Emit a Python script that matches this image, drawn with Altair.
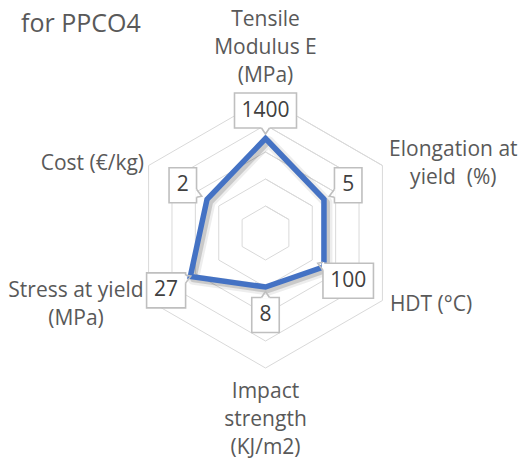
import math
import altair as alt
import pandas as pd

# ---- chart content --------------------------------------------------------
axis_labels = [
    ["Tensile", "Modulus E", "(MPa)"],
    ["Elongation at", "yield\u00a0 (%)"],
    ["HDT (°C)"],
    ["Impact", "strength", "(KJ/m2)"],
    ["Stress at yield", "(MPa)"],
    ["Cost (€/kg)"],
]
values = [1400, 5, 100, 8, 27, 2]
axis_max = [2000, 10, 200, 20, 42, 4]
ring_levels = [0.2, 0.4, 0.6, 0.8, 1.0]
subtitle = "for PPCO4"

# ---- geometry ---------------------------------------------------------------
W, H = 522, 463
CX, CY = 265.5, 233.0      # pixel position of the radar centre
R = 135.0                  # pixel radius of the outer ring
PX = 1.0 / R               # one pixel expressed in radar units
FONT = "Open Sans"
TEXT_GREY = "#595959"
LABEL_SIZE = 21
LINE_H = 28

n = len(values)
angles = [math.pi / 2 - i * 2 * math.pi / n for i in range(n)]

x_scale = alt.Scale(domain=[-CX / R, (W - CX) / R], nice=False, zero=False)
y_scale = alt.Scale(domain=[-(H - CY) / R, CY / R], nice=False, zero=False)


def X(field):
    return alt.X(field, type="quantitative", scale=x_scale, axis=None)


def Y(field):
    return alt.Y(field, type="quantitative", scale=y_scale, axis=None)


# rough advance widths (in em) used to centre multi-line labels beside the rings
_ADV = {"i": .26, "l": .26, "j": .26, "t": .35, "f": .33, "r": .41, " ": .26,
        "\u00a0": .26, "(": .3, ")": .3, "/": .37, "s": .48, "y": .5, "k": .5,
        "g": .55, "M": .89, "m": .93, "°": .43, "€": .57, "%": .82, "E": .54,
        "C": .63, "D": .7, "H": .7, "T": .55, "S": .55}


def text_width(s, size):
    return sum(_ADV.get(ch, .57) for ch in s) * size


# ---- hexagonal grid ----------------------------------------------------------
grid_rows = []
for k, lvl in enumerate(ring_levels):
    for j in range(n + 2):
        a = angles[j % n]
        grid_rows.append(dict(ring=k, order=j, x=lvl * math.cos(a), y=lvl * math.sin(a)))
grid_df = pd.DataFrame(grid_rows)

grid = alt.Chart(grid_df).mark_line(color="#d9d9d9", strokeWidth=1).encode(
    x=X("x"), y=Y("y"), detail="ring:N", order="order:Q"
)

# ---- series polygon --------------------------------------------------------------
frac = [v / m for v, m in zip(values, axis_max)]
pts = [(f * math.cos(a), f * math.sin(a)) for f, a in zip(frac, angles)]

series_rows = []
for j in range(n + 2):
    px, py = pts[j % n]
    series_rows.append(dict(order=j, x=px, y=py, sx=px + 3 * PX, sy=py - 3 * PX))
series_df = pd.DataFrame(series_rows)

shadow_wide = alt.Chart(series_df).mark_line(
    color="#000000", strokeWidth=11, opacity=0.07, strokeJoin="round"
).encode(x=X("sx"), y=Y("sy"), order="order:Q")
shadow_core = alt.Chart(series_df).mark_line(
    color="#000000", strokeWidth=6, opacity=0.15, strokeJoin="round"
).encode(x=X("sx"), y=Y("sy"), order="order:Q")
series = alt.Chart(series_df).mark_line(
    color="#4472C4", strokeWidth=5.5, strokeJoin="miter"
).encode(x=X("x"), y=Y("y"), order="order:Q")

# ---- value callouts --------------------------------------------------------------
box_rows, wedge_rows, cover_rows = [], [], []
for i, (v, a, (px, py)) in enumerate(zip(values, angles, pts)):
    ux, uy = math.cos(a), math.sin(a)
    bx, by = px + 28 * PX * ux, py + 28 * PX * uy
    txt = str(v)
    hw = (11.5 * len(txt) + 16) / 2 * PX
    hh = 17.5 * PX
    box_rows.append(dict(label=txt, bx=bx, by=by,
                         x1=bx - hw, x2=bx + hw, y1=by - hh, y2=by + hh))
    dx, dy = -ux, -uy
    tx = hw / abs(dx) if abs(dx) > 1e-9 else float("inf")
    ty = hh / abs(dy) if abs(dy) > 1e-9 else float("inf")
    t = min(tx, ty)
    ex, ey = bx + t * dx, by + t * dy
    tipx, tipy = ex + 6 * PX * dx, ey + 6 * PX * dy
    if tx < ty:
        b1, b2 = (ex, ey + 4 * PX), (ex, ey - 4 * PX)
    else:
        b1, b2 = (ex - 4 * PX, ey), (ex + 4 * PX, ey)
    for o, (wx, wy) in enumerate([b1, (tipx, tipy), b2]):
        wedge_rows.append(dict(label=txt, order=o, x=wx, y=wy))
    cover_rows.append(dict(x=b1[0], y=b1[1], x2=b2[0], y2=b2[1]))

box_df = pd.DataFrame(box_rows)
wedge_df = pd.DataFrame(wedge_rows)
cover_df = pd.DataFrame(cover_rows)

boxes = alt.Chart(box_df).mark_rect(
    fill="white", stroke="#bfbfbf", strokeWidth=1.6
).encode(x=X("x1"), x2="x2", y=Y("y1"), y2="y2")
covers = alt.Chart(cover_df).mark_rule(color="white", strokeWidth=2.5).encode(
    x=X("x"), y=Y("y"), x2="x2", y2="y2"
)
wedges = alt.Chart(wedge_df).mark_line(color="#bfbfbf", strokeWidth=1.6).encode(
    x=X("x"), y=Y("y"), detail="label:N", order="order:Q"
)
box_text = alt.Chart(box_df).mark_text(
    font=FONT, fontSize=21, color="#404040", baseline="middle", align="center"
).encode(x=X("bx"), y=Y("by"), text="label:N")

# ---- category labels (y is the first line's baseline) -------------------------------
cat_rows = []
for lines, a in zip(axis_labels, angles):
    ox, oy = math.cos(a), math.sin(a)
    nl = len(lines)
    w = max(text_width(s, LABEL_SIZE) for s in lines) * PX
    if abs(ox) < 1e-6:
        lx = ox
        if oy > 0:
            ly = oy + (16 + (nl - 1) * LINE_H) * PX
        else:
            ly = oy - 30 * PX
    else:
        lx = ox + 8 * PX + w / 2 if ox > 0 else ox - 5 * PX - w / 2
        shift = 4 if oy > 0 else 10.5
        ly = oy - (shift - (nl - 1) * LINE_H / 2) * PX
    cat_rows.append(dict(text="\n".join(lines), x=lx, y=ly))
cat_df = pd.DataFrame(cat_rows)

cat_text = alt.Chart(cat_df).mark_text(
    font=FONT, fontSize=LABEL_SIZE, color=TEXT_GREY, align="center",
    baseline="alphabetic", lineBreak="\n", lineHeight=LINE_H
).encode(x=X("x"), y=Y("y"), text="text:N")

# ---- heading text ------------------------------------------------------------------
title_df = pd.DataFrame([dict(text=subtitle)])
title = alt.Chart(title_df).mark_text(
    font=FONT, fontSize=25, color=TEXT_GREY, align="left", baseline="alphabetic"
).encode(x=alt.value(21), y=alt.value(32), text="text:N")

chart = alt.layer(
    grid, shadow_wide, shadow_core, series,
    boxes, covers, wedges, box_text,
    cat_text, title
).properties(
    width=W, height=H, padding=0, autosize=alt.AutoSizeParams(type="none"),
    background="white"
).configure_view(stroke=None)

chart.save("out.html", embed_options={"renderer": "svg", "actions": False})
